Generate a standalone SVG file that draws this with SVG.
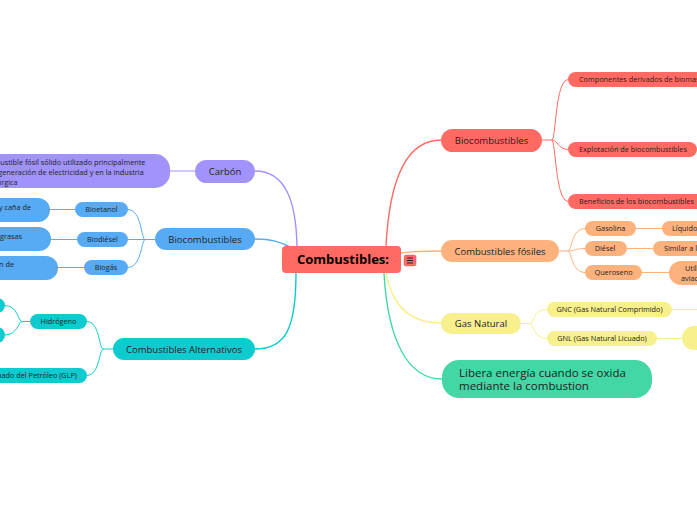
<svg xmlns="http://www.w3.org/2000/svg" width="697" height="520" viewBox="0 0 697 520">
<style>
text{font-family:"Open Sans","Liberation Sans",sans-serif;fill:#222}
.s7{font-size:7.3px}
.s9{font-size:9.5px}
.mid{text-anchor:middle}
.end{text-anchor:end}
.c{fill:none;stroke-linecap:round}
.main{stroke-width:1.4}
.sub{stroke-width:1}
.red{fill:#FF6B63}.ora{fill:#FDB27E}.yel{fill:#F8F08C}.grn{fill:#44D7A6}.tea{fill:#0ECBD0}.blu{fill:#57ABF5}.pur{fill:#A093FC}
</style>
<rect width="697" height="520" fill="#ffffff"/>
<g id="connectors">
<path class="c main" stroke="#A093FC" d="M255,171 C285,171 296,200 297,246"/>
<path class="c main" stroke="#57ABF5" d="M255,239 C272,239 280,242 290,247"/>
<path class="c main" stroke="#0ECBD0" d="M296,273 C296,330 285,349 255,349"/>
<path class="c main" stroke="#FF6B63" d="M386,246 C390,170 410,140 441,140"/>
<path class="c main" stroke="#FDB27E" d="M401,253 C415,251 425,251 441,251"/>
<path class="c main" stroke="#F8F08C" d="M386,273 C392,305 410,323 441,323"/>
<path class="c main" stroke="#44D7A6" d="M384,273 C388,345 410,379 442,379"/>
<g stroke="#FF6B63" class="c sub">
<path class="c sub" d="M542,140 H552 C556,140 555,79.5 568,79.5"/>
<path class="c sub" d="M552,140 C558,140 558,149.5 568,149.5"/>
<path class="c sub" d="M552,140 C556,140 555,201.5 568,201.5"/>
</g>
<g stroke="#FDB27E" class="c sub">
<path class="c sub" d="M559,251 H568 C572,251 571,228.5 585,228.5"/>
<path class="c sub" d="M568,251 C574,251 576,248.5 585,248.5"/>
<path class="c sub" d="M568,251 C572,251 571,272.5 585,272.5"/>
<path class="c sub" d="M636,228.5 H662"/>
<path class="c sub" d="M627,248.5 H653"/>
<path class="c sub" d="M642,272.5 H669"/>
</g>
<g stroke="#F8F08C" class="c sub">
<path class="c sub" d="M521,323.5 H530 C534,323.5 533,309.5 547,309.5"/>
<path class="c sub" d="M530,323.5 C534,323.5 533,338.5 547,338.5"/>
<path class="c sub" d="M672,309.5 H697"/>
<path class="c sub" d="M657,338.5 H682"/>
</g>
<path class="c sub" stroke="#A093FC" d="M195,171 H170"/>
<g stroke="#57ABF5" class="c sub">
<path class="c sub" d="M155,239.5 H145 C141,239.5 142,209.5 128,209.5"/>
<path class="c sub" d="M145,239.5 H128"/>
<path class="c sub" d="M145,239.5 C141,239.5 142,267.5 128,267.5"/>
<path class="c sub" d="M75,209.5 H50"/>
<path class="c sub" d="M77,239.5 H51"/>
<path class="c sub" d="M84,267.5 H58"/>
</g>
<g stroke="#0ECBD0" class="c sub">
<path class="c sub" d="M113,349 H103 C99,349 100,321.5 87,321.5"/>
<path class="c sub" d="M103,349 C99,349 100,375.5 87,375.5"/>
<path class="c sub" d="M30,321.5 H22 C18,321.5 18,305.5 5,305.5"/>
<path class="c sub" d="M22,321.5 C18,321.5 18,335 5,335"/>
</g>
</g>
<g id="central">
<rect class="red" x="282" y="246" width="119" height="27" rx="4"/>
<text x="343" y="264" class="mid" style="font-size:13px;font-weight:bold;fill:#000">Combustibles:</text>
<rect class="red" x="404" y="255" width="12" height="11" rx="2" stroke="#d9534b" stroke-width="0.5"/>
<path d="M407,258 H413 M407,260.5 H413 M407,263 H413" stroke="#222" stroke-width="1"/>
</g>
<g id="carbon">
<rect class="pur" x="195" y="160" width="60" height="23" rx="11.5"/>
<text x="225" y="175" class="mid s9">Carbón</text>
</g>
<g id="carbon-desc">
<rect class="pur" x="-30" y="154" width="200" height="34" rx="15"/>
<text x="-20" y="165" class="s7">Combustible fósil sólido utilizado principalmente</text>
<text x="-20" y="174.5" class="s7">en la generación de electricidad y en la industria</text>
<text x="-20" y="184.5" class="s7">siderúrgica</text>
</g>
<g id="bio-left">
<rect class="blu" x="155" y="228" width="100" height="22" rx="11"/>
<text x="205" y="242.5" class="mid s9">Biocombustibles</text>
</g>
<g id="bioetanol">
<rect class="blu" x="75" y="202" width="53" height="15" rx="7.5"/>
<text x="101.5" y="212" class="mid s7">Bioetanol</text>
</g>
<g id="biodiesel">
<rect class="blu" x="77" y="232" width="51" height="15" rx="7.5"/>
<text x="102.5" y="242" class="mid s7">Biodiésel</text>
</g>
<g id="biogas">
<rect class="blu" x="84" y="260" width="44" height="15" rx="7.5"/>
<text x="106" y="270" class="mid s7">Biogás</text>
</g>
<g id="bioetanol-desc">
<rect class="blu" x="-50" y="198" width="100" height="24" rx="12"/>
<text x="31" y="209.5" class="end s7">Obtenido del maíz y caña de</text>
</g>
<g id="biodiesel-desc">
<rect class="blu" x="-50" y="227" width="101" height="24" rx="12"/>
<text x="22" y="238.5" class="end s7">Obtenido de aceites y grasas</text>
</g>
<g id="biogas-desc">
<rect class="blu" x="-50" y="256" width="108" height="24" rx="12"/>
<text x="14" y="266.5" class="end s7">Obtenido de la descomposición de</text>
</g>
<g id="alternativos">
<rect class="tea" x="113" y="338" width="142" height="22" rx="11"/>
<text x="184" y="352.5" class="mid s9">Combustibles Alternativos</text>
</g>
<g id="hidrogeno">
<rect class="tea" x="30" y="314" width="57" height="15" rx="7.5"/>
<text x="58.5" y="324" class="mid s7">Hidrógeno</text>
</g>
<g id="hidrogeno-a">
<rect class="tea" x="-40" y="298" width="45" height="15" rx="7.5"/>
</g>
<g id="hidrogeno-b">
<rect class="tea" x="-40" y="327" width="45" height="16" rx="8"/>
</g>
<g id="glp">
<rect class="tea" x="-40" y="368" width="127" height="15" rx="7.5"/>
<text x="77" y="378" class="end s7">Gas Licuado del Petróleo (GLP)</text>
</g>
<g id="bio-right">
<rect class="red" x="441" y="129" width="101" height="23" rx="11.5"/>
<text x="491.5" y="144" class="mid s9">Biocombustibles</text>
</g>
<g id="componentes">
<rect class="red" x="568" y="72" width="140" height="15" rx="7.5"/>
<text x="579" y="82" class="s7">Componentes derivados de biomasa</text>
</g>
<g id="explotacion">
<rect class="red" x="568" y="142" width="129" height="15" rx="7.5"/>
<text x="579" y="152" class="s7">Explotación de biocombustibles</text>
</g>
<g id="beneficios">
<rect class="red" x="568" y="194" width="140" height="15" rx="7.5"/>
<text x="579" y="204" class="s7">Beneficios de los biocombustibles</text>
</g>
<g id="fosiles">
<rect class="ora" x="441" y="240" width="118" height="22" rx="11"/>
<text x="500" y="254.5" class="mid s9">Combustibles fósiles</text>
</g>
<g id="gasolina">
<rect class="ora" x="585" y="221" width="51" height="15" rx="7.5"/>
<text x="610.5" y="231" class="mid s7">Gasolina</text>
</g>
<g id="diesel">
<rect class="ora" x="585" y="241" width="42" height="15" rx="7.5"/>
<text x="605" y="251" class="mid s7">Diésel</text>
</g>
<g id="queroseno">
<rect class="ora" x="585" y="265" width="57" height="15" rx="7.5"/>
<text x="613.5" y="275" class="mid s7">Queroseno</text>
</g>
<g id="gasolina-desc">
<rect class="ora" x="662" y="221" width="60" height="15" rx="7.5"/>
<text x="672" y="231" class="s7">Líquido</text>
</g>
<g id="diesel-desc">
<rect class="ora" x="653" y="241" width="60" height="15" rx="7.5"/>
<text x="664" y="251" class="s7">Similar a la gasolina</text>
</g>
<g id="queroseno-desc">
<rect class="ora" x="669" y="261" width="60" height="24" rx="12"/>
<text x="685" y="271" class="s7">Utilizado en la</text>
<text x="681" y="281" class="s7">aviación</text>
</g>
<g id="gas-natural">
<rect class="yel" x="441" y="313" width="80" height="21" rx="10.5"/>
<text x="481" y="327" class="mid s9">Gas Natural</text>
</g>
<g id="gnc">
<rect class="yel" x="547" y="302" width="125" height="15" rx="7.5"/>
<text x="609.5" y="312" class="mid s7">GNC (Gas Natural Comprimido)</text>
</g>
<g id="gnl">
<rect class="yel" x="547" y="331" width="110" height="15" rx="7.5"/>
<text x="602" y="341" class="mid s7">GNL (Gas Natural Licuado)</text>
</g>
<g id="gnl-desc">
<rect class="yel" x="682" y="326" width="40" height="24" rx="12"/>
</g>
<g id="libera">
<rect class="grn" x="442" y="360" width="210" height="38" rx="17"/>
<text x="459" y="376.5" style="font-size:11.5px">Libera energía cuando se oxida</text>
<text x="459" y="390" style="font-size:11.5px">mediante la combustion</text>
</g>
</svg>
